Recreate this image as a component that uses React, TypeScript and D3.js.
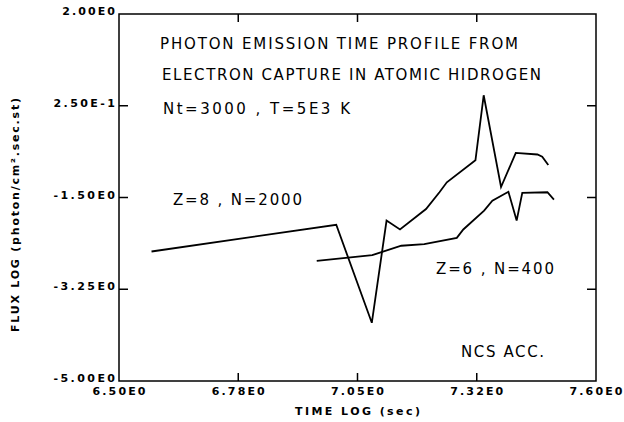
import React from "react";
import * as d3 from "d3";

const xTicks = [6.5, 6.775, 7.05, 7.325, 7.6];
const xTickLabels = ["6.50E0", "6.78E0", "7.05E0", "7.32E0", "7.60E0"];
const yTicks = [2, 0.25, -1.5, -3.25, -5];
const yTickLabels = ["2.00E0", "2.50E-1", "-1.50E0", "-3.25E0", "-5.00E0"];

// Z=8 , N=2000
const s1X = [6.575, 7.001, 7.083, 7.117, 7.148, 7.208, 7.239, 7.256, 7.322, 7.341, 7.381, 7.415, 7.465, 7.476, 7.490];
const s1Y = [-2.53, -2.02, -3.89, -1.94, -2.11, -1.72, -1.40, -1.21, -0.79, 0.45, -1.30, -0.65, -0.68, -0.72, -0.88];
// Z=6 , N=400
const s2X = [6.956, 7.084, 7.151, 7.204, 7.279, 7.294, 7.342, 7.361, 7.398, 7.417, 7.430, 7.488, 7.503];
const s2Y = [-2.71, -2.60, -2.42, -2.39, -2.27, -2.11, -1.75, -1.56, -1.39, -1.94, -1.41, -1.40, -1.54];

const W = 624, H = 422;
const L = 119, R = 596, T = 14, B = 381;

export default function App() {
  const x = d3.scaleLinear().domain([6.5, 7.6]).range([L, R]);
  const y = d3.scaleLinear().domain([-5, 2]).range([B, T]);
  const line = d3.line<[number, number]>().x(d => x(d[0])).y(d => y(d[1]));
  const p1 = line(s1X.map((v, i) => [v, s1Y[i]]) as [number, number][]) || "";
  const p2 = line(s2X.map((v, i) => [v, s2Y[i]]) as [number, number][]) || "";
  const tickFont = { fontFamily: "DejaVu Sans", fontWeight: 700, fontSize: 11 } as const;
  const txt = { fontFamily: "DejaVu Sans", fontSize: 15 } as const;
  return (
    <svg width={W} height={H} style={{ position: "absolute", left: 0, top: 0, background: "#fff" }}>
      <rect x={L} y={T} width={R - L} height={B - T} fill="none" stroke="#000" strokeWidth={1.5} />
      {xTicks.slice(1, -1).map((t, i) => (
        <g key={"xt" + i}>
          <line x1={x(t)} x2={x(t)} y1={B} y2={B - 8} stroke="#000" strokeWidth={1.5} />
          <line x1={x(t)} x2={x(t)} y1={T} y2={T + 8} stroke="#000" strokeWidth={1.5} />
        </g>
      ))}
      {yTicks.slice(1, -1).map((t, i) => (
        <g key={"yt" + i}>
          <line x1={L} x2={L + 9} y1={y(t)} y2={y(t)} stroke="#000" strokeWidth={1.5} />
          <line x1={R} x2={R - 9} y1={y(t)} y2={y(t)} stroke="#000" strokeWidth={1.5} />
        </g>
      ))}
      {xTicks.map((t, i) => (
        <text key={"xl" + i} x={x(t)} y={395} textAnchor="middle" style={tickFont}
          textLength={53} lengthAdjust="spacing">{xTickLabels[i]}</text>
      ))}
      {yTicks.map((t, i) => (
        <text key={"yl" + i} x={115} y={y(t) + 1} textAnchor="end" style={tickFont}
          textLength={yTickLabels[i].length * 8.8} lengthAdjust="spacing">{yTickLabels[i]}</text>
      ))}
      <text x={(L + R) / 2} y={415} textAnchor="middle" style={tickFont} textLength={125} lengthAdjust="spacing">TIME LOG (sec)</text>
      <text transform={`translate(19,215) rotate(-90)`} textAnchor="middle" style={tickFont} textLength={234} lengthAdjust="spacing">FLUX LOG (photon/cm².sec.st)</text>
      <path d={p1} fill="none" stroke="#000" strokeWidth={1.8} strokeLinejoin="miter" />
      <path d={p2} fill="none" stroke="#000" strokeWidth={1.8} />
      <text x={160} y={49} style={txt} textLength={358} lengthAdjust="spacing">PHOTON EMISSION TIME PROFILE FROM</text>
      <text x={162} y={80} style={txt} textLength={379} lengthAdjust="spacing">ELECTRON CAPTURE IN ATOMIC HIDROGEN</text>
      <text x={163} y={114} style={txt} textLength={187} lengthAdjust="spacing">Nt=3000 , T=5E3 K</text>
      <text x={173} y={205} style={txt} textLength={129} lengthAdjust="spacing">Z=8 , N=2000</text>
      <text x={436} y={274} style={txt} textLength={118} lengthAdjust="spacing">Z=6 , N=400</text>
      <text x={461} y={357} style={txt} textLength={83} lengthAdjust="spacing">NCS ACC.</text>
    </svg>
  );
}
